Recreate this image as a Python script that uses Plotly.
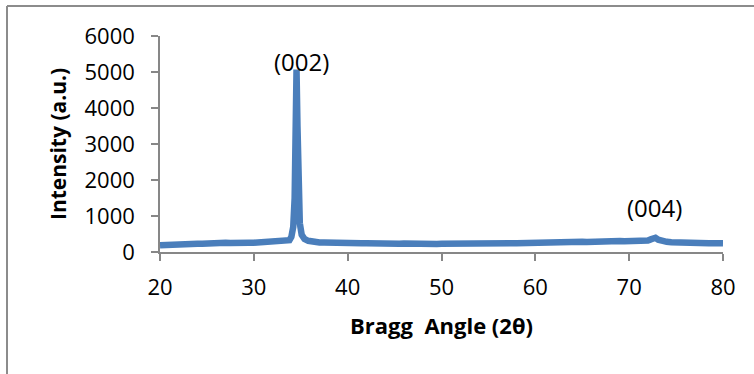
import plotly.graph_objects as go

# XRD scan: 2-theta (degrees) and measured intensity (a.u.)
two_theta = [
    20.0, 20.5, 21.0, 21.5, 22.0, 22.5, 23.0, 23.5, 24.0, 24.5,
    25.0, 25.5, 26.0, 26.5, 27.0, 27.5, 28.0, 28.5, 29.0, 29.5,
    30.0, 30.5, 31.0, 31.5, 32.0, 32.5, 33.0, 33.5, 33.8, 34.0,
    34.2, 34.35, 34.45, 34.55, 34.65, 34.75, 34.9, 35.1, 35.4, 35.8,
    36.2, 36.6, 37.0, 37.5, 38.0, 38.5, 39.0, 39.5, 40.0, 40.5,
    41.0, 41.5, 42.0, 42.5, 43.0, 43.5, 44.0, 44.5, 45.0, 45.5,
    46.0, 46.5, 47.0, 47.5, 48.0, 48.5, 49.0, 49.5, 50.0, 50.5,
    51.0, 51.5, 52.0, 52.5, 53.0, 53.5, 54.0, 54.5, 55.0, 55.5,
    56.0, 56.5, 57.0, 57.5, 58.0, 58.5, 59.0, 59.5, 60.0, 60.5,
    61.0, 61.5, 62.0, 62.5, 63.0, 63.5, 64.0, 64.5, 65.0, 65.5,
    66.0, 66.5, 67.0, 67.5, 68.0, 68.5, 69.0, 69.5, 70.0, 70.5,
    71.0, 71.5, 72.0, 72.3, 72.6, 72.8, 73.1, 73.5, 74.0, 74.5,
    75.0, 75.5, 76.0, 76.5, 77.0, 77.5, 78.0, 78.5, 79.0, 79.5,
    80.0,
]
intensity = [
    190, 200, 205, 198, 215, 210, 222, 226, 232, 226,
    240, 236, 246, 252, 256, 250, 262, 256, 266, 260,
    258, 266, 272, 292, 272, 268, 276, 292, 330, 420,
    700, 1500, 3200, 5070, 3500, 1700, 800, 480, 360, 310,
    285, 272, 266, 262, 255, 258, 250, 254, 246, 250,
    244, 240, 246, 238, 242, 236, 240, 232, 238, 230,
    236, 228, 232, 226, 230, 224, 228, 222, 226, 230,
    224, 228, 222, 230, 226, 232, 228, 234, 230, 236,
    232, 238, 236, 242, 240, 246, 244, 250, 248, 254,
    252, 258, 262, 256, 272, 266, 270, 276, 282, 278,
    288, 284, 296, 292, 302, 298, 308, 300, 304, 296,
    300, 294, 318, 350, 390, 395, 340, 300, 282, 270,
    262, 256, 258, 250, 252, 246, 248, 242, 244, 238,
    240,
]

x_ticks = [20, 30, 40, 50, 60, 70, 80]
y_ticks = [0, 1000, 2000, 3000, 4000, 5000, 6000]

# Reflection labels: (text, 2-theta, intensity position)
peak_labels = ["(002)", "(004)"]
peak_label_x = [35.1, 72.7]
peak_label_y = [5300, 1230]

W, H = 754, 374
ML, MR, MT, MB = 160, 31, 36, 122
plot_w = W - ML - MR
plot_h = H - MT - MB

FONT = "'Open Sans', Lato, sans-serif"
AXIS_GRAY = "#878787"

fig = go.Figure()
fig.add_trace(go.Scatter(
    x=two_theta, y=intensity, mode="lines",
    line=dict(color="#4A7EBB", width=6.5),
    showlegend=False, hoverinfo="skip",
))

for txt, xx, yy in zip(peak_labels, peak_label_x, peak_label_y):
    fig.add_annotation(x=xx, y=yy, text=txt, showarrow=False,
                       font=dict(family=FONT, size=24, color="#000"))

# outer chart frame (top and left edges)
fx0 = (7 - ML) / plot_w
fx1 = (W + 5 - ML) / plot_w
fy_top = (H - MB - 6) / plot_h
fy_bot = (H - MB - (H + 5)) / plot_h
frame = dict(type="line", xref="paper", yref="paper",
             line=dict(color="#8c8c8c", width=2), layer="below")
fig.add_shape(x0=fx0, x1=fx1, y0=fy_top, y1=fy_top, **frame)
fig.add_shape(x0=fx0, x1=fx0, y0=fy_bot, y1=fy_top, **frame)

fig.update_layout(
    width=W, height=H,
    margin=dict(l=ML, r=MR, t=MT, b=MB),
    paper_bgcolor="white", plot_bgcolor="white",
    font=dict(family=FONT, color="#000"),
    xaxis=dict(
        range=[20, 80], tickvals=x_ticks, ticks="outside", ticklen=7,
        tickcolor=AXIS_GRAY, tickwidth=1.5, showline=True,
        linecolor=AXIS_GRAY, linewidth=1.5, showgrid=False, zeroline=False,
        tickfont=dict(family=FONT, size=22), ticklabelstandoff=8,
        title=dict(text="<b>Bragg  Angle (2θ)</b>",
                   font=dict(family=FONT, size=22), standoff=18),
    ),
    yaxis=dict(
        range=[0, 6000], tickvals=y_ticks, ticks="outside", ticklen=7,
        tickcolor=AXIS_GRAY, tickwidth=1.5, showline=True,
        linecolor=AXIS_GRAY, linewidth=1.5, showgrid=False, zeroline=False,
        tickfont=dict(family=FONT, size=22), ticklabelstandoff=12,
        title=dict(text="<b>Intensity (a.u.)</b>",
                   font=dict(family=FONT, size=21), standoff=12),
    ),
)

fig.write_html("out.html")
